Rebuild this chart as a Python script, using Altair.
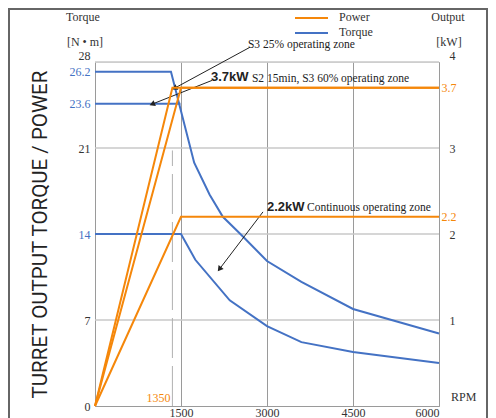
import altair as alt
import pandas as pd

# ---------------- data ----------------
# torque curves (N·m) vs speed (RPM)
rpm_s3 = [0, 1325, 1730, 2000, 2230, 2580, 3000, 3600, 4500, 6000]
torque_s3 = [27.2, 27.2, 19.8, 17.2, 15.4, 13.8, 11.8, 10.1, 7.9, 5.9]
rpm_s2 = [0, 1490]
torque_s2 = [24.6, 24.6]
rpm_cont = [0, 1500, 1750, 2350, 3000, 3600, 4500, 6000]
torque_cont = [14, 14, 11.9, 8.6, 6.5, 5.2, 4.4, 3.5]

# power curves (kW) vs speed (RPM)
rpm_p_s3 = [0, 1350, 6000]
power_s3 = [0, 3.7, 3.7]
rpm_p_s2 = [0, 1500, 6000]
power_s2 = [0, 3.7, 3.7]
rpm_p_cont = [0, 1500, 6000]
power_cont = [0, 2.2, 2.2]

# axes
rpm_ticks = [1500, 3000, 4500, 6000]
torque_grid = [7, 14, 21, 28]
torque_ticks = [0, 7, 14, 21, 24.6, 27.2, 28]
torque_tick_text = ["0", "7", "14", "21", "23.6", "26.2", "28"]
torque_blue_ticks = [14, 24.6, 27.2]
power_ticks = [1, 2, 2.2, 3, 3.7, 4]
power_orange_ticks = [2.2, 3.7]
base_speed = 1350
base_speed_top = 20.8

# legend
legend_names = ["Power", "Torque"]

# annotations (positions in chart units: rpm, torque)
bold_labels = ["3.7kW", "2.2kW"]
bold_rpm = [2023, 3000]
bold_torque = [26.8, 16.2]
note_labels = ["S3 25% operating zone", "S2 15min, S3 60% operating zone", "Continuous operating zone"]
note_rpm = [2668, 2738, 3697]
note_torque = [29.4, 26.6, 16.1]
arrow_rpm = [2703, 2040, 2930]
arrow_torque = [29.2, 26.5, 15.8]
arrow_rpm2 = [1400, 1012, 2180]
arrow_torque2 = [25.9, 24.6, 11.2]
arrow_angle = [241.6, 247.9, 217.5]

ORANGE = "#f5870a"
BLUE = "#4472c4"
SERIF = "Liberation Serif"
TXT = "#333333"

# ---------------- tables ----------------
rows = []
for name, xs_, ys_ in [("s3", rpm_s3, torque_s3), ("s2", rpm_s2, torque_s2), ("cont", rpm_cont, torque_cont)]:
    for i, (a, b) in enumerate(zip(xs_, ys_)):
        rows.append({"rpm": a, "val": b, "series": "T_" + name, "kind": "Torque", "ord": i})
torque_df = pd.DataFrame(rows)
rows = []
for name, xs_, ys_ in [("s3", rpm_p_s3, power_s3), ("s2", rpm_p_s2, power_s2), ("cont", rpm_p_cont, power_cont)]:
    for i, (a, b) in enumerate(zip(xs_, ys_)):
        rows.append({"rpm": a, "val": b, "series": "P_" + name, "kind": "Power", "ord": i})
power_df = pd.DataFrame(rows)

grid_df = pd.DataFrame({"v": torque_grid})
dash_df = pd.DataFrame({"rpm": [base_speed], "y0": [0], "y1": [base_speed_top], "txt": [str(base_speed)]})
bold_df = pd.DataFrame({"t": bold_labels, "rpm": bold_rpm, "val": bold_torque})
note_df = pd.DataFrame({"t": note_labels, "rpm": note_rpm, "val": note_torque})
arrow_df = pd.DataFrame({"rpm": arrow_rpm, "val": arrow_torque, "rpm2": arrow_rpm2,
                         "val2": arrow_torque2, "ang": arrow_angle})
corner_df = pd.DataFrame({"rpm": [0, 6000], "val": [28, 28]})
legend_df = pd.DataFrame({"kind": legend_names})

xs = alt.Scale(domain=[0, 6000], nice=False)
ts = alt.Scale(domain=[0, 28], nice=False)
ps = alt.Scale(domain=[0, 4], nice=False)
color = alt.Color("kind:N", scale=alt.Scale(domain=legend_names, range=[ORANGE, BLUE]), legend=None)

# label expressions
lab_expr = "datum.label"
for v, t in zip(torque_ticks, torque_tick_text):
    lab_expr = f"datum.value == {v} ? '{t}' : (" + lab_expr + ")"
blue_test = " || ".join(f"datum.value == {v}" for v in torque_blue_ticks)
orange_test = " || ".join(f"datum.value == {v}" for v in power_orange_ticks)
top_t = max(torque_grid)
top_p = max(power_ticks)

x_axis = alt.Axis(values=rpm_ticks, grid=True, gridColor="#9a9a9a", gridWidth=1, domainColor="#9a9a9a",
                  ticks=False, labelPadding=1, labelFont=SERIF, labelFontSize=12, labelColor=TXT,
                  labelOverlap=False, format="d", title=None)
left_axis = alt.Axis(values=torque_ticks, grid=False, ticks=False, domainColor="#9a9a9a",
                     labelExpr=lab_expr, labelColor=alt.expr(f"({blue_test}) ? '{BLUE}' : '{TXT}'"),
                     labelBaseline=alt.expr(f"datum.value == {top_t} ? 'bottom' : 'middle'"),
                     labelFont=SERIF, labelFontSize=12, labelPadding=5, labelOverlap=False,
                     labelBound=False, labelFlush=False,
                     title="TURRET OUTPUT TORQUE / POWER", titleAngle=270, titleX=-55, titleY=172,
                     titleAlign="center", titleBaseline="middle", titleFontSize=20.5,
                     titleFont="Roboto", titleFontWeight="normal", titleColor="#222222")
right_axis = alt.Axis(orient="right", values=power_ticks, grid=False, ticks=False, domainColor="#9a9a9a",
                      format=".2~f", labelOverlap=False, labelFlush=False, labelBound=False,
                      labelColor=alt.expr(f"({orange_test}) ? '{ORANGE}' : '{TXT}'"),
                      labelPadding=alt.expr(f"({orange_test}) ? 2 : 10"),
                      labelBaseline=alt.expr(f"datum.value == {top_p} ? 'bottom' : 'middle'"),
                      labelFont=SERIF, labelFontSize=12, title=None)

frame = alt.Chart(corner_df).transform_filter("datum.rpm == 0").mark_rect(
    filled=False, stroke="#666666", strokeWidth=2).encode(
    x=alt.value(-86), x2=alt.value(392), y=alt.value(-53), y2=alt.value(380))

hgrid = alt.Chart(grid_df).mark_rule(color="#c8c8c8", strokeWidth=1.5).encode(
    y=alt.Y("v:Q", scale=ts, axis=left_axis))

dash = alt.Chart(dash_df).mark_rule(color="#b0b0b0", strokeWidth=1, strokeDash=[40, 8]).encode(
    x=alt.X("rpm:Q", scale=xs, axis=x_axis), y=alt.Y("y0:Q", scale=ts), y2="y1:Q")
dash_txt = alt.Chart(dash_df).mark_text(color=ORANGE, font=SERIF, fontSize=12, align="right",
                                        baseline="bottom", dx=-2, dy=-1).encode(
    x=alt.X("rpm:Q", scale=xs), y=alt.Y("y0:Q", scale=ts), text="txt:N")

tlines = alt.Chart(torque_df).mark_line(strokeWidth=2).encode(
    x=alt.X("rpm:Q", scale=xs), y=alt.Y("val:Q", scale=ts), color=color,
    detail="series:N", order="ord:Q")

arrows = alt.Chart(arrow_df).mark_rule(color="#222222", strokeWidth=1).encode(
    x=alt.X("rpm:Q", scale=xs), y=alt.Y("val:Q", scale=ts), x2="rpm2:Q", y2="val2:Q")
heads = alt.Chart(arrow_df).mark_point(shape="triangle", filled=True, color="#222222", size=40,
                                       opacity=1, strokeWidth=0).encode(
    x=alt.X("rpm2:Q", scale=xs), y=alt.Y("val2:Q", scale=ts), angle=alt.Angle("ang:Q", scale=None))

bold_txt = alt.Chart(bold_df).mark_text(font="Liberation Sans", fontWeight="bold", fontSize=13,
                                        align="left", baseline="middle", color="#222222").encode(
    x=alt.X("rpm:Q", scale=xs), y=alt.Y("val:Q", scale=ts), text="t:N")
note_txt = alt.Chart(note_df).mark_text(font=SERIF, fontSize=11.5, align="left", baseline="middle",
                                        color="#222222").encode(
    x=alt.X("rpm:Q", scale=xs), y=alt.Y("val:Q", scale=ts), text="t:N")

corner = alt.Chart(corner_df)
unit_l1 = corner.transform_filter("datum.rpm == 0").mark_text(
    font=SERIF, fontSize=12, color=TXT, dx=-12, dy=-45, align="center").encode(
    x=alt.X("rpm:Q", scale=xs), y=alt.Y("val:Q", scale=ts), text=alt.value("Torque"))
unit_l2 = corner.transform_filter("datum.rpm == 0").mark_text(
    font=SERIF, fontSize=12, color=TXT, dx=-10, dy=-20, align="center").encode(
    x=alt.X("rpm:Q", scale=xs), y=alt.Y("val:Q", scale=ts), text=alt.value("[N • m]"))
unit_r1 = corner.transform_filter("datum.rpm == 6000").mark_text(
    font=SERIF, fontSize=12, color=TXT, dx=9, dy=-45, align="center").encode(
    x=alt.X("rpm:Q", scale=xs), y=alt.Y("val:Q", scale=ts), text=alt.value("Output"))
unit_r2 = corner.transform_filter("datum.rpm == 6000").mark_text(
    font=SERIF, fontSize=12, color=TXT, dx=10, dy=-20, align="center").encode(
    x=alt.X("rpm:Q", scale=xs), y=alt.Y("val:Q", scale=ts), text=alt.value("[kW]"))
rpm_lab = corner.transform_filter("datum.rpm == 6000").mark_text(
    font=SERIF, fontSize=12, color=TXT, dx=12, align="left", baseline="bottom").encode(
    x=alt.X("rpm:Q", scale=xs), y=alt.value(342), text=alt.value("RPM"))

# legend (manual, two rows)
leg_y = {"Power": -44, "Torque": -29}
leg_rules = []
for nm in legend_names:
    sub = alt.Chart(legend_df).transform_filter(f"datum.kind == '{nm}'")
    leg_rules.append(sub.mark_rule(strokeWidth=2.2).encode(
        x=alt.value(200), x2=alt.value(233), y=alt.value(leg_y[nm]), color=color))
    leg_rules.append(sub.mark_text(font=SERIF, fontSize=12, color=TXT, align="left",
                                   baseline="middle").encode(
        x=alt.value(244), y=alt.value(leg_y[nm] - 1), text="kind:N"))

plines = alt.Chart(power_df).mark_line(strokeWidth=2).encode(
    x=alt.X("rpm:Q", scale=xs), y=alt.Y("val:Q", scale=ps, axis=right_axis), color=color,
    detail="series:N", order="ord:Q")

torque_layer = alt.layer(frame, hgrid, dash, dash_txt, tlines, arrows, heads, bold_txt, note_txt,
                         unit_l1, unit_l2, unit_r1, unit_r2, rpm_lab, *leg_rules)

chart = alt.layer(torque_layer, plines).resolve_scale(y="independent").properties(
    width=344, height=344, autosize=alt.AutoSizeParams(type="none"),
    padding={"left": 87, "top": 54, "right": 49, "bottom": 12}
).configure_view(stroke=None).configure(background="white")

chart.save("out.html", embed_options={"renderer": "svg", "actions": False})
